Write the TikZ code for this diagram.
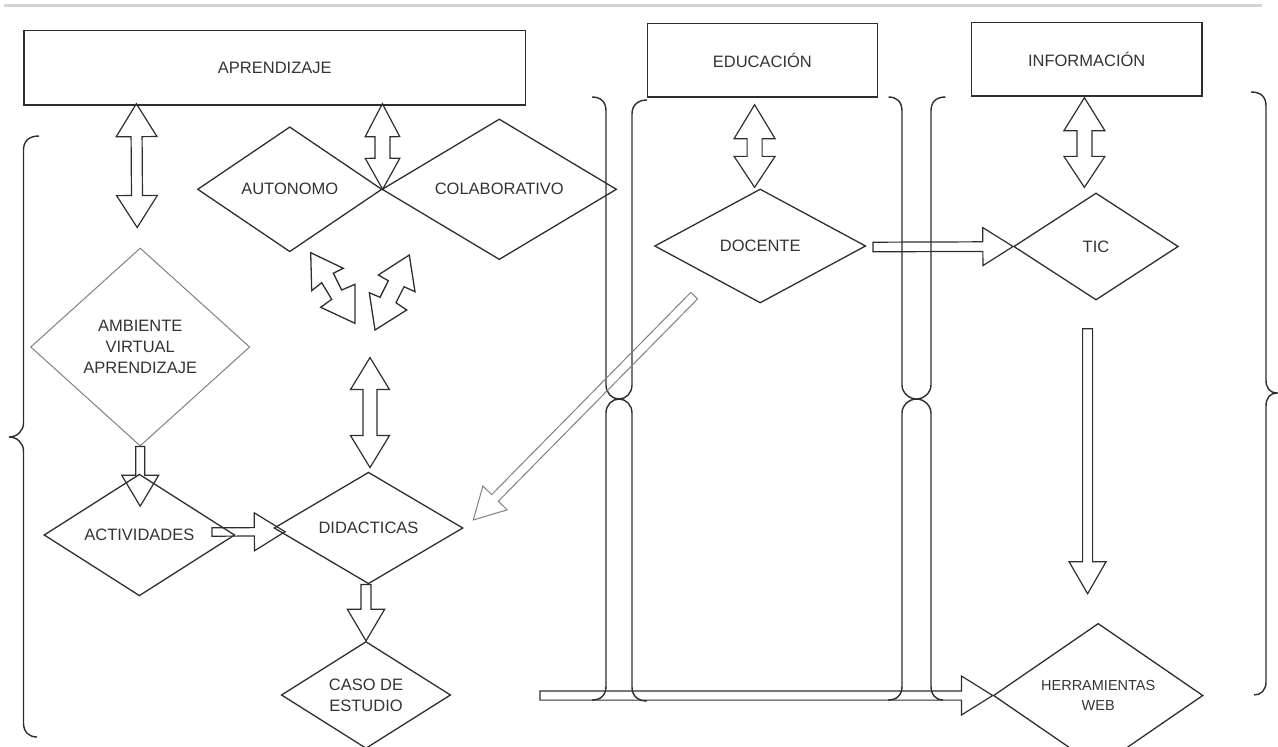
\documentclass[tikz,border=0pt]{standalone}
\usepackage{fontspec}
\setmainfont{Liberation Sans}
\usetikzlibrary{calc,shapes.geometric}
\definecolor{inkc}{HTML}{2E2E2E}
\definecolor{txtc}{HTML}{333333}
\definecolor{softc}{HTML}{808080}
\definecolor{rulec}{HTML}{D4D4D4}
\newcommand{\labfont}{\fontsize{16.5}{21}\selectfont}
\newcommand{\smallfont}{\fontsize{14.5}{20}\selectfont}
% single block arrow: from, to, head length, shaft half width, head half width
\newcommand{\blkS}[6][]{%
  \path (#2) coordinate (bA) (#3) coordinate (bB);
  \path ($(bB)!#4!(bA)$) coordinate (bH);
  \draw[blk,#1] ($(bA)!#5!90:(bB)$) -- ($(bH)!#5!90:(bB)$) -- ($(bH)!#6!90:(bB)$) -- (bB)
    -- ($(bH)!#6!-90:(bB)$) -- ($(bH)!#5!-90:(bB)$) -- ($(bA)!#5!-90:(bB)$) -- cycle;}
% double block arrow: from, to, head length 1, head length 2, shaft half width, head half width
\newcommand{\blkD}[6]{%
  \path (#1) coordinate (bA) (#2) coordinate (bB);
  \path ($(bA)!#3!(bB)$) coordinate (bHa) ($(bB)!#4!(bA)$) coordinate (bHb);
  \draw[blk] (bA) -- ($(bHa)!#6!90:(bB)$) -- ($(bHa)!#5!90:(bB)$) -- ($(bHb)!#5!90:(bB)$)
    -- ($(bHb)!#6!90:(bB)$) -- (bB) -- ($(bHb)!#6!-90:(bB)$) -- ($(bHb)!#5!-90:(bB)$)
    -- ($(bHa)!#5!-90:(bB)$) -- ($(bHa)!#6!-90:(bB)$) -- cycle;}
\begin{document}
\begin{tikzpicture}[x=1pt,y=-1pt,
  boxn/.style={draw=inkc, line width=1.3pt, rectangle, inner sep=0pt, font=\labfont, text=txtc},
  dian/.style={draw=inkc, line width=1.3pt, diamond, inner sep=0pt, font=\labfont, text=txtc, align=center},
  blk/.style={draw=inkc, line width=1.2pt, line join=miter},
  brc/.style={draw=inkc, line width=1.4pt},
  bolt/.style={draw=inkc, line width=1.3pt, line join=miter}]
\useasboundingbox (0,0) rectangle (1278,747);
\draw[rulec, line width=3pt] (4,5) -- (1262,5);

% boxes
\node[boxn, minimum width=501.6pt, minimum height=74.3pt] (aprend) at (274.8,67.9) {APRENDIZAJE};
\node[boxn, minimum width=230.2pt, minimum height=73.7pt] (educ) at (762.4,60.2) {EDUCACIÓN};
\node[boxn, minimum width=230.6pt, minimum height=73.3pt] (info) at (1086.7,59.4) {INFORMACIÓN};

% diamonds
\node[dian, minimum width=184.5pt, minimum height=125pt] (autonomo) at (289.75,189.3) {AUTONOMO};
\node[dian, minimum width=234.6pt, minimum height=125pt] (colab) at (499.3,189.3) {COLABORATIVO};
\node[dian, draw=softc, line width=1pt, minimum width=219.2pt, minimum height=198pt] (ambiente) at (140.2,347) {AMBIENTE\\VIRTUAL\\APRENDIZAJE};
\node[dian, minimum width=190.8pt, minimum height=112pt] (actividades) at (139.4,535) {ACTIVIDADES};
\node[dian, minimum width=189pt, minimum height=104pt] (didacticas) at (368.5,528) {DIDACTICAS};
\node[dian, minimum width=169.4pt, minimum height=96pt] (caso) at (366,695) {CASO DE\\ESTUDIO};
\node[dian, minimum width=211.2pt, minimum height=114pt] (docente) at (760.2,246) {DOCENTE};
\node[dian, minimum width=164.6pt, minimum height=107pt] (tic) at (1096,246.5) {TIC};
\node[dian, font=\smallfont, minimum width=209.6pt, minimum height=103pt] (herr) at (1098.2,695.5) {HERRAMIENTAS\\WEB};

% braces
\draw[brc] (39,136) .. controls (29,136) and (23.5,141) .. (23.5,150) -- (23.5,423)
  .. controls (23.5,431) and (17,437) .. (9,437) .. controls (17,437) and (23.5,443) .. (23.5,451)
  -- (23.5,723) .. controls (23.5,732) and (29,737) .. (37,737);
\draw[brc] (592,97) .. controls (601,97) and (606,102) .. (606,111) -- (606,385)
  .. controls (606,393) and (612,399) .. (619,399) .. controls (612,399) and (606,405) .. (606,413)
  -- (606,686) .. controls (606,695) and (601,700) .. (592,700);
\draw[brc] (647,100) .. controls (638,100) and (632,105) .. (632,114) -- (632,385)
  .. controls (632,393) and (626,399) .. (619,399) .. controls (626,399) and (632,405) .. (632,413)
  -- (632,687) .. controls (632,696) and (638,701) .. (647,701);
\draw[brc] (888.5,97) .. controls (897,97) and (902,102) .. (902,111) -- (902,385)
  .. controls (902,393) and (909.5,399) .. (916.5,399) .. controls (909.5,399) and (902,405) .. (902,413)
  -- (902,686) .. controls (902,695) and (897,700) .. (888,700);
\draw[brc] (945.5,97) .. controls (936,97) and (931,102) .. (931,111) -- (931,385)
  .. controls (931,393) and (923.5,399) .. (916.5,399) .. controls (923.5,399) and (931,405) .. (931,413)
  -- (931,686) .. controls (931,695) and (936,700) .. (943,700);
\draw[brc] (1251,92) .. controls (1261,92) and (1266,97) .. (1266,106) -- (1266,380)
  .. controls (1266,388) and (1270,393) .. (1277,393) .. controls (1270,393) and (1266,398) .. (1266,406)
  -- (1266,682) .. controls (1266,690) and (1261,695) .. (1254,695);

% lightning double arrows
\draw[bolt] (310.7,252.7) -- (343.3,268.3) -- (333.3,273.3) -- (341.7,290) -- (355,284.3) -- (355,323.3)
  -- (320.7,307.3) -- (331.7,299.3) -- (321.7,282.7) -- (311.7,290.7) -- cycle;
\draw[bolt] (409.3,255) -- (415,291.7) -- (404,286.7) -- (396,302.7) -- (406.7,310) -- (375,330)
  -- (369.3,292.7) -- (380,297.3) -- (388.3,280.7) -- (378.3,275) -- cycle;

% block arrows
\blkD{$(aprend.south west)+(113,-2)$}{$(ambiente.north)+(-3,-20)$}{33pt}{32pt}{5.5pt}{20.4pt}
\blkD{$(aprend.south west)+(359,-2)$}{autonomo.east}{33pt}{31pt}{7.5pt}{17.3pt}
\blkD{$(educ.south)+(-7.8,7)$}{$(docente.north)+(-5.6,-1)$}{34pt}{31pt}{7.5pt}{20.5pt}
\blkD{$(info.south)+(-2.3,1)$}{$(tic.north)+(-11.6,-5)$}{33pt}{31pt}{7.5pt}{20.5pt}
\blkD{$(didacticas.north)+(1.5,-114)$}{$(didacticas.north)+(1.5,-4)$}{32pt}{32pt}{7pt}{19.5pt}
\blkS{ambiente.south}{$(actividades.north -| ambiente.south)+(0,32.7)$}{31pt}{4.5pt}{18.5pt}
\blkS{$(actividades.east)+(-23.4,-3)$}{$(didacticas.west)+(11.7,3.7)$}{30.7pt}{4.2pt}{19pt}
\blkS{$(didacticas.south)+(-2.5,0)$}{caso.north}{31.7pt}{5pt}{18.7pt}
\blkS{$(docente.east)+(6.5,1)$}{tic.west}{30.2pt}{4.8pt}{19pt}
\blkS{$(tic.south)+(-8.4,28)$}{$(herr.north)+(-10.6,-29)$}{32pt}{5pt}{18.5pt}
\blkS[draw=softc, line width=1pt]{$(docente.south)+(-66,-8)$}{$(didacticas.east)+(9.6,-8)$}{31pt}{4.7pt}{17pt}
\coordinate (hstart) at (540,695.5);
\blkS{hstart}{herr.west}{31.3pt}{4.6pt}{19.5pt}
\end{tikzpicture}
\end{document}
